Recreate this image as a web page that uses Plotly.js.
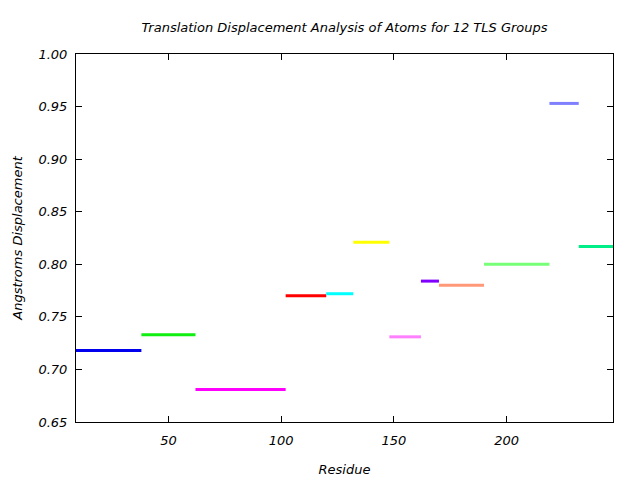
<!DOCTYPE html>
<html>
<head>
<meta charset="utf-8">
<script src="https://cdn.plot.ly/plotly-3.0.1.min.js"></script>
<style>html,body{margin:0;padding:0;background:#fff;}</style>
</head>
<body>
<div id="chart" style="width:640px;height:480px;"></div>
<script>
// TLS group residue ranges and translation displacement values
const groupStart = [5, 38, 62, 102, 120, 132, 148, 162, 170, 190, 219, 232];
const groupEnd   = [38, 62, 102, 120, 132, 148, 162, 170, 190, 219, 232, 250];
const displacement = [0.718, 0.733, 0.681, 0.770, 0.772, 0.821, 0.731, 0.784, 0.780, 0.800, 0.953, 0.817];
const groupColors = ['#0000ee', '#11ee11', '#ff00ff', '#ff0000', '#00ffff', '#ffff00',
                     '#ff80ff', '#8000ff', '#ff9977', '#77ff77', '#8080ff', '#00ee88'];
const xTickVals = [50, 100, 150, 200];
const yTickVals = [0.65, 0.70, 0.75, 0.80, 0.85, 0.90, 0.95, 1.00];

const traces = groupStart.map((s, i) => ({
  type: 'scatter', mode: 'lines',
  x: [s, groupEnd[i]],
  y: [displacement[i], displacement[i]],
  line: {color: groupColors[i], width: 3},
  showlegend: false, hoverinfo: 'none'
}));

const fnt = {family: 'DejaVu Sans', size: 13, color: '#000', style: 'italic'};
const axisCommon = {
  showline: true, linecolor: '#000', linewidth: 1, mirror: 'ticks',
  ticks: 'inside', ticklen: 6, tickcolor: '#000', tickwidth: 1,
  showgrid: false, zeroline: false, tickfont: fnt
};

const layout = {
  width: 640, height: 480,
  margin: {l: 76, r: 27, t: 54, b: 58},
  paper_bgcolor: '#fff', plot_bgcolor: '#fff',
  font: fnt,
  title: {text: 'Translation Displacement Analysis of Atoms for 12 TLS Groups',
          font: fnt, x: 0.5, xref: 'paper', xanchor: 'center',
          y: 1 - 27/480, yref: 'container', yanchor: 'middle'},
  xaxis: Object.assign({}, axisCommon, {
    range: [9, 247.2], tickvals: xTickVals, ticktext: xTickVals.map(String),
    ticklabelstandoff: 6,
    title: {text: 'Residue', font: fnt, standoff: 18}
  }),
  yaxis: Object.assign({}, axisCommon, {
    range: [0.65, 1.0], tickvals: yTickVals, ticktext: yTickVals.map(v => v.toFixed(2)),
    ticklabelstandoff: 5,
    title: {text: 'Angstroms Displacement', font: fnt, standoff: 12}
  })
};

Plotly.newPlot('chart', traces, layout, {staticPlot: true, displayModeBar: false});
</script>
</body>
</html>
